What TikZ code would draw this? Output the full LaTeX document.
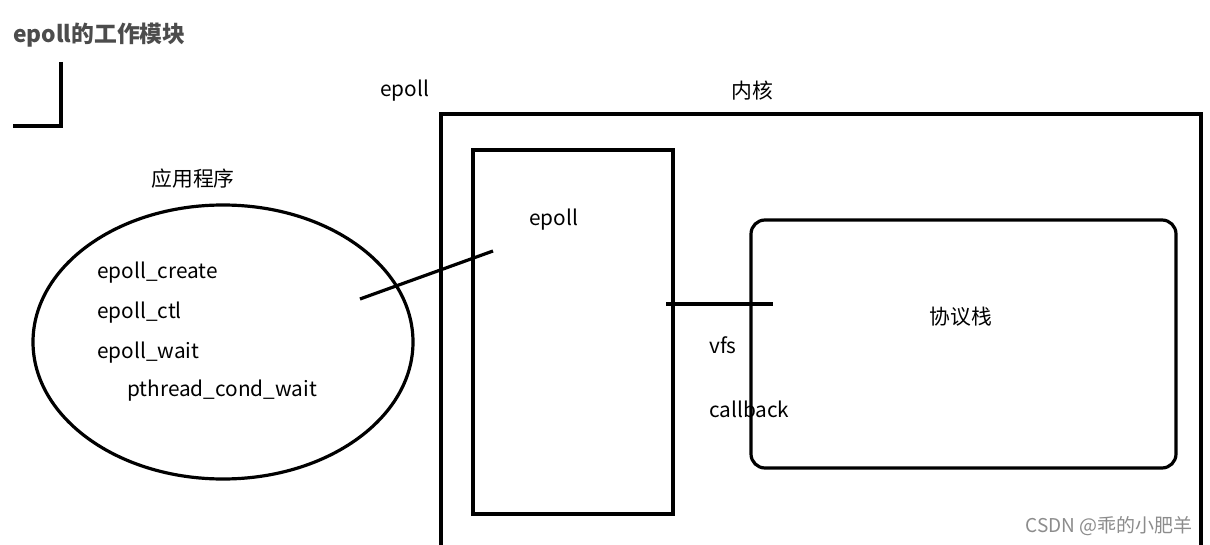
\documentclass[tikz,border=0pt]{standalone}
\usepackage{fontspec}
\setmainfont{Noto Sans CJK SC}
\usepackage{tikz}

\begin{document}
\begin{tikzpicture}[x=1pt, y=-1pt, font=\fontsize{20.8}{24}\selectfont,
		thickline/.style={line width=3.2pt, black},
		txt/.style={inner sep=0pt, anchor=base west}]
		\useasboundingbox[fill=white] (0,0) rectangle (1210,545);
		% title and corner mark
		\node[txt, text=black!70, font=\fontsize{22.8}{26}\selectfont\bfseries] (title) at (13,43) {epoll的工作模块};
		\draw[thickline] (61,62) -- (61,126) -- (13,126);
		% kernel frame, open at the bottom
		\node[txt] (lblepoll) at (380,97) {epoll};
		\node[txt] (lblkernel) at (731,99) {内核};
		\draw[thickline] (441,550) -- (441,114) -- (1201,114) -- (1201,550);
		% epoll box and protocol stack
		\node[draw, line width=3.2pt, minimum width=200pt, minimum height=364pt, inner sep=0pt] (epollbox) at (573,332) {};
		\node[txt] (lblinner) at (529,226) {epoll};
		\node[draw, line width=3.2pt, rounded corners=14pt, minimum width=425pt, minimum height=248pt, inner sep=0pt] (stack) at (963.5,344) {};
		\node (lblstack) at (961,317) {协议栈};
		\node[txt] (vfs) at (709,353) {vfs};
		\node[txt] (callback) at (709,417) {callback};
		% application
		\node (lblapp) at (193,179) {应用程序};
		\draw[line width=3.2pt] (223,342) ellipse (190pt and 137pt);
		\node[txt] (create) at (97,279) {epoll\_create};
		\node[txt] (ctl) at (97,319) {epoll\_ctl};
		\node[txt] (wait) at (97,358) {epoll\_wait};
		\node[txt] (cond) at (127,396) {pthread\_cond\_wait};
		% links
		\coordinate (append) at (360,299);
		\coordinate (epollend) at (493,251);
		\coordinate (vfsstart) at (666,304);
		\coordinate (vfsend) at (773,304);
		\draw[thickline] (append) -- (epollend);
		\draw[thickline] (vfsstart) -- (vfsend);
		% watermark
		\node[anchor=base east, inner sep=0pt, text=black!45, font=\fontsize{19}{22}\selectfont] (mark) at (1193,532) {CSDN @乖的小肥羊};
	\end{tikzpicture}
\end{document}
